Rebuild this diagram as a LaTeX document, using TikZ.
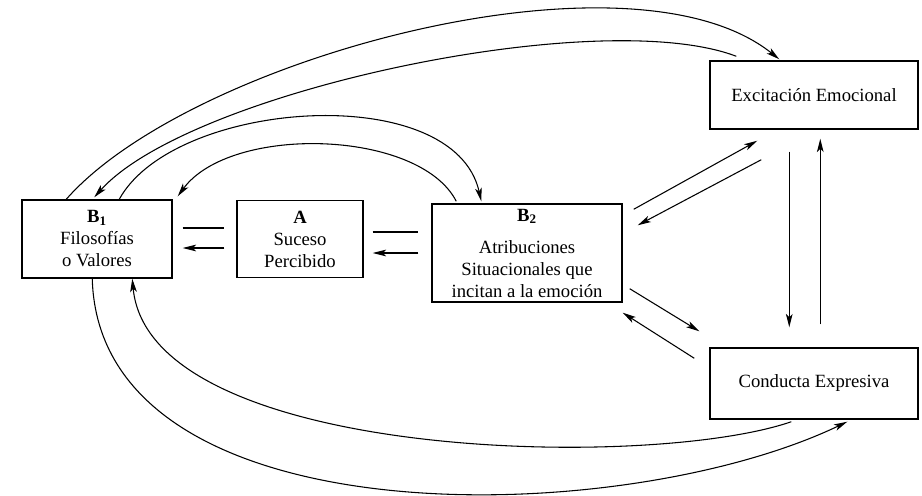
\documentclass[tikz,border=0pt]{standalone}
\usepackage{fontspec}
\setmainfont{Liberation Serif}
\usetikzlibrary{arrows.meta,positioning}

\begin{document}
\begin{tikzpicture}[x=0.75pt,y=-0.75pt,on grid,
  >={Stealth[length=10pt,width=5pt,inset=2.5pt]},
  box/.style={draw,line width=1.1pt,align=center,inner sep=0pt,
    font=\fontsize{14}{16.5}\selectfont},
  conn/.style={line width=0.8pt}]
  \useasboundingbox (0,0) rectangle (922,496);

  \node[box,minimum width=112.5pt,minimum height=58.5pt]  (b1) at (97,239)                          {\textbf{B\textsubscript{1}}\\Filosofías\\o Valores};
  \node[box,minimum width=94.5pt,minimum height=57.75pt]  (a)    [right=152.25pt of b1]              {\textbf{A}\\Suceso\\Percibido};
  \node[box,minimum width=142.5pt,minimum height=73.5pt]  (b2)   [below right=10.5pt and 170.25pt of a] {\textbf{B\textsubscript{2}}\\[7.5pt]Atribuciones\\Situacionales que\\incitan a la emoción};
  \node[box,minimum width=156pt,minimum height=51pt]      (exc)  [above right=118.5pt and 215.25pt of b2] {Excitación Emocional};
  \node[box,minimum width=156pt,minimum height=53.25pt]   (cond) [below=216.375pt of exc]          {Conducta Expresiva};

  % paired lines between the boxes
  \path[conn]
    ([shift={(10,-11)}]b1.east)          edge                ([shift={(-12,-11)}]a.west)
    ([shift={(-12,9)}]a.west)            edge[->]            ([shift={(10,9)}]b1.east)
    ([shift={(9,-7)}]a.east)             edge                ([shift={(-13,-21)}]b2.west)
    ([shift={(-13,0)}]b2.west)           edge[->]            ([shift={(9,14)}]a.east)
    ([shift={(11,6)}]b2.north east)      edge[->]            ([shift={(48,11)}]exc.south west)
    ([shift={(52,30)}]exc.south west)    edge[->]            ([shift={(15,22)}]b2.north east)
    ([shift={(7,-14)}]b2.south east)     edge[->]            ([shift={(-10,-16)}]cond.north west)
    ([shift={(-15,11)}]cond.north west)  edge[->]            ([shift={(0,10)}]b2.south east)
    ([shift={(80,22)}]exc.south west)    edge[->]            ([shift={(80,-20)}]cond.north west)
    ([shift={(111,-23)}]cond.north west) edge[->]            ([shift={(111,9)}]exc.south west);

  % long loops
  \draw[conn,->] ([shift={(45,0)}]b1.north west)
    .. controls +(123,-140) and +(-150,-120) .. ([shift={(70,-1)}]exc.north west);
  \draw[conn,->] ([shift={(27,-4)}]exc.north west)
    .. controls +(-137,-52) and +(95,-106) .. ([shift={(73,-2)}]b1.north west);
  \draw[conn,->] ([shift={(98,0)}]b1.north west)
    .. controls +(55,-100) and +(-27,-122) .. ([shift={(50,-2)}]b2.north west);
  \draw[conn,->] ([shift={(25,-2)}]b2.north west)
    .. controls +(-37,-72) and +(53,-72) .. ([shift={(5,-3)}]b1.north east);
  \draw[conn,->] ([shift={(71,0)}]b1.south west)
    .. controls +(7,262) and +(-228,109) .. ([shift={(138,2)}]cond.south west);
  \draw[conn,->] ([shift={(82,2)}]cond.south west)
    .. controls +(-142,49) and +(17,182) .. ([shift={(111,0)}]b1.south west);

\end{tikzpicture}
\end{document}
